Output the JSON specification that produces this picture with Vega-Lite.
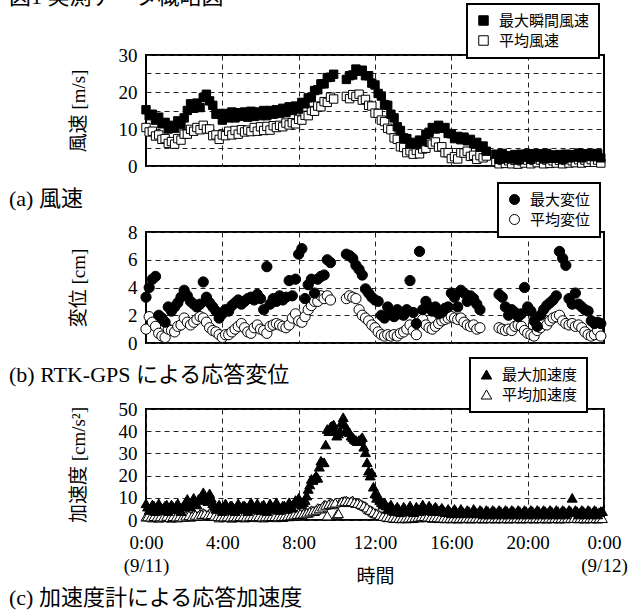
{
"$schema": "https://vega.github.io/schema/vega-lite/v6.json",
"padding": {"left": 8, "top": -14, "right": 10, "bottom": 5},
"title": {"text": "図1 実測データ概略図", "anchor": "start", "frame": "group", "dx": -137, "offset": -7, "fontSize": 22},
"data": {"values": [
{"t":0,"w":15.2,"wm":10.4,"d":3.3,"dm":1.0,"a":7.5,"am":1.5},
{"t":10,"w":13.6,"wm":9.2,"d":4.0,"dm":1.9,"a":4.5,"am":2.2},
{"t":20,"w":14.0,"wm":9.4,"d":4.6,"dm":1.5,"a":7,"am":1.1},
{"t":30,"w":12.4,"wm":8.1,"d":4.8,"dm":1.2,"a":4,"am":2.0},
{"t":40,"w":13.2,"wm":8.4,"d":2.0,"dm":0.7,"a":7.5,"am":1.0},
{"t":50,"w":11.4,"wm":7.2,"d":1.8,"dm":0.5,"a":4.5,"am":2.1},
{"t":60,"w":11.8,"wm":7.4,"d":1.5,"dm":0.4,"a":6.5,"am":1.2},
{"t":70,"w":10.0,"wm":6.1,"d":2.6,"dm":1.0,"a":4,"am":1.9},
{"t":80,"w":11.0,"wm":6.6,"d":2.3,"dm":0.9,"a":7,"am":1.0},
{"t":90,"w":10.2,"wm":5.9,"d":2.6,"dm":0.8,"a":5,"am":2.2},
{"t":100,"w":12.2,"wm":7.4,"d":2.9,"dm":1.2,"a":7.5,"am":1.1},
{"t":110,"w":11.2,"wm":7.0,"d":3.3,"dm":1.3,"a":4,"am":2.0},
{"t":120,"w":13.0,"wm":8.6,"d":3.8,"dm":1.8,"a":7,"am":1.3},
{"t":130,"w":15.0,"wm":8.6,"d":3.4,"dm":1.5,"a":9.5,"am":2.4},
{"t":140,"w":16.8,"wm":9.9,"d":3.0,"dm":1.3,"a":6,"am":1.4},
{"t":150,"w":15.6,"wm":9.4,"d":2.8,"dm":1.5,"a":10,"am":2.6},
{"t":160,"w":17.0,"wm":10.4,"d":2.6,"dm":1.7,"a":7,"am":1.8},
{"t":170,"w":15.8,"wm":9.8,"d":2.8,"dm":1.9,"a":9,"am":2.8},
{"t":180,"w":18.5,"wm":11.0,"d":4.4,"dm":1.8,"a":12.5,"am":3.2},
{"t":190,"w":19.4,"wm":10.0,"d":3.3,"dm":1.5,"a":9.5,"am":2.2},
{"t":200,"w":17.6,"wm":10.0,"d":2.9,"dm":1.1,"a":12,"am":3.2},
{"t":210,"w":16.4,"wm":8.2,"d":2.6,"dm":0.9,"a":7.5,"am":1.8},
{"t":220,"w":14.0,"wm":8.4,"d":2.3,"dm":0.8,"a":5,"am":2.3},
{"t":230,"w":14.2,"wm":7.2,"d":1.8,"dm":0.6,"a":7,"am":1.1},
{"t":240,"w":12.4,"wm":8.4,"d":2.1,"dm":0.4,"a":4,"am":2.0},
{"t":250,"w":14.2,"wm":8.2,"d":2.4,"dm":0.6,"a":7.5,"am":1.2},
{"t":260,"w":13.0,"wm":9.4,"d":2.3,"dm":0.6,"a":4.5,"am":2.1},
{"t":270,"w":14.6,"wm":8.4,"d":2.7,"dm":0.8,"a":6.5,"am":1.0},
{"t":280,"w":13.0,"wm":9.6,"d":2.9,"dm":1.0,"a":4,"am":2.2},
{"t":290,"w":14.4,"wm":8.6,"d":3.1,"dm":1.2,"a":7.5,"am":1.2},
{"t":300,"w":13.4,"wm":9.8,"d":2.8,"dm":1.4,"a":5,"am":2.0},
{"t":310,"w":14.6,"wm":9.2,"d":3.0,"dm":1.1,"a":6.5,"am":1.1},
{"t":320,"w":13.2,"wm":9.7,"d":3.2,"dm":0.8,"a":4,"am":2.2},
{"t":330,"w":14.8,"wm":9.3,"d":3.3,"dm":0.7,"a":8,"am":1.3},
{"t":340,"w":13.4,"wm":10.4,"d":3.1,"dm":1.1,"a":5,"am":2.1},
{"t":350,"w":14.6,"wm":9.4,"d":3.5,"dm":1.3,"a":7.5,"am":1.2},
{"t":360,"w":13.6,"wm":10.6,"d":3.2,"dm":1.0,"a":4.5,"am":2.2},
{"t":370,"w":15.0,"wm":9.6,"d":2.4,"dm":0.9,"a":7,"am":1.1},
{"t":380,"w":13.6,"wm":10.7,"d":5.5,"dm":0.7,"a":4,"am":2.0},
{"t":390,"w":15.0,"wm":9.7,"d":2.8,"dm":1.2,"a":7.5,"am":1.3},
{"t":400,"w":14.0,"wm":10.9,"d":3.2,"dm":1.3,"a":5,"am":2.3},
{"t":410,"w":15.2,"wm":10.4,"d":3.0,"dm":1.4,"a":8,"am":1.2},
{"t":420,"w":14.2,"wm":11.0,"d":3.4,"dm":1.3,"a":4.5,"am":2.1},
{"t":430,"w":15.6,"wm":10.6,"d":3.1,"dm":1.2,"a":6.5,"am":1.3},
{"t":440,"w":14.4,"wm":11.6,"d":3.3,"dm":1.1,"a":5,"am":2.4},
{"t":450,"w":16.0,"wm":11.1,"d":4.5,"dm":1.3,"a":8,"am":1.6},
{"t":460,"w":15.0,"wm":11.7,"d":3.4,"dm":1.8,"a":5.5,"am":2.8},
{"t":470,"w":16.2,"wm":11.4,"d":4.6,"dm":2.1,"a":9,"am":2.0},
{"t":480,"w":15.4,"wm":12.6,"d":6.4,"dm":1.6,"a":10,"am":3.2},
{"t":490,"w":17.2,"wm":12.4,"d":6.8,"dm":1.5,"a":7,"am":2.4},
{"t":500,"w":16.8,"wm":13.7,"d":3.2,"dm":1.9,"a":9,"am":3.4},
{"t":510,"w":18.4,"wm":13.6,"d":4.2,"dm":2.4,"a":14,"am":3.2},
{"t":520,"w":18.6,"wm":15.0,"d":4.6,"dm":2.7,"a":18.5,"am":4.4},
{"t":530,"w":20.4,"wm":14.8,"d":3.6,"dm":3.0,"a":19,"am":4.0},
{"t":540,"w":20.6,"wm":16.2,"d":4.6,"dm":3.0,"a":19,"am":5.4},
{"t":550,"w":22.2,"wm":16.0,"d":4.8,"dm":3.4,"a":26.7,"am":5.2},
{"t":560,"w":22.2,"wm":17.4,"d":4.9,"dm":3.2,"a":26,"am":6.8},
{"t":570,"w":23.9,"wm":17.2,"d":6.0,"dm":3.4,"a":41,"am":2.0},
{"t":580,"w":24.0,"wm":18.6,"d":5.8,"dm":3.1,"a":42,"am":7.6},
{"t":590,"w":24.8,"wm":18.1,"d":null,"dm":null,"a":43,"am":7.0},
{"t":600,"w":null,"wm":null,"d":null,"dm":null,"a":38,"am":2.5},
{"t":610,"w":null,"wm":null,"d":null,"dm":null,"a":40,"am":8.0},
{"t":620,"w":null,"wm":null,"d":null,"dm":null,"a":46.3,"am":8.5},
{"t":630,"w":23.4,"wm":18.8,"d":6.4,"dm":3.2,"a":41,"am":8.8},
{"t":640,"w":24.4,"wm":18.2,"d":6.3,"dm":3.4,"a":39.5,"am":8.0},
{"t":650,"w":24.6,"wm":19.3,"d":6.1,"dm":3.3,"a":37.3,"am":8.8},
{"t":660,"w":26.2,"wm":18.8,"d":5.6,"dm":3.2,"a":36,"am":7.6},
{"t":670,"w":25.6,"wm":19.4,"d":5.3,"dm":2.4,"a":36,"am":7.8},
{"t":680,"w":25.9,"wm":17.8,"d":4.9,"dm":2.0,"a":37.3,"am":6.8},
{"t":690,"w":24.4,"wm":18.0,"d":3.9,"dm":1.8,"a":30.5,"am":6.2},
{"t":700,"w":24.4,"wm":16.4,"d":3.6,"dm":1.6,"a":22.2,"am":4.8},
{"t":710,"w":22.4,"wm":16.2,"d":3.3,"dm":1.3,"a":21.5,"am":4.2},
{"t":720,"w":21.9,"wm":14.3,"d":3.1,"dm":1.1,"a":12,"am":3.0},
{"t":730,"w":19.6,"wm":14.2,"d":3.0,"dm":0.8,"a":11,"am":2.8},
{"t":740,"w":18.9,"wm":12.4,"d":2.0,"dm":0.6,"a":8,"am":1.8},
{"t":750,"w":16.6,"wm":12.0,"d":1.8,"dm":0.5,"a":8,"am":1.9},
{"t":760,"w":16.4,"wm":10.2,"d":2.6,"dm":0.6,"a":5,"am":1.2},
{"t":770,"w":14.0,"wm":9.8,"d":2.2,"dm":0.5,"a":7,"am":1.5},
{"t":780,"w":13.0,"wm":7.6,"d":1.9,"dm":0.6,"a":4,"am":0.8},
{"t":790,"w":10.6,"wm":7.2,"d":2.4,"dm":0.5,"a":6,"am":1.2},
{"t":800,"w":9.6,"wm":5.2,"d":2.1,"dm":0.7,"a":3.5,"am":0.7},
{"t":810,"w":7.6,"wm":5.0,"d":2.0,"dm":0.8,"a":6,"am":1.1},
{"t":820,"w":7.4,"wm":3.6,"d":2.4,"dm":1.0,"a":4,"am":0.7},
{"t":830,"w":5.9,"wm":4.1,"d":4.5,"dm":1.3,"a":6.5,"am":1.2},
{"t":840,"w":6.4,"wm":3.2,"d":2.2,"dm":0.9,"a":3.5,"am":0.8},
{"t":850,"w":5.8,"wm":4.2,"d":1.4,"dm":0.6,"a":6,"am":1.5},
{"t":860,"w":7.0,"wm":3.3,"d":6.6,"dm":1.9,"a":4,"am":1.1},
{"t":870,"w":6.6,"wm":4.6,"d":2.4,"dm":1.7,"a":7,"am":1.9},
{"t":880,"w":8.6,"wm":4.8,"d":3.0,"dm":1.3,"a":4.5,"am":1.2},
{"t":890,"w":9.1,"wm":6.4,"d":2.6,"dm":1.1,"a":6.5,"am":1.6},
{"t":900,"w":10.4,"wm":5.9,"d":2.3,"dm":1.0,"a":4,"am":0.9},
{"t":910,"w":10.0,"wm":6.5,"d":2.6,"dm":1.2,"a":6,"am":1.4},
{"t":920,"w":11.0,"wm":5.1,"d":2.1,"dm":1.4,"a":4,"am":0.8},
{"t":930,"w":10.2,"wm":5.2,"d":2.2,"dm":1.6,"a":5.5,"am":1.2},
{"t":940,"w":10.4,"wm":3.6,"d":2.5,"dm":1.7,"a":3.5,"am":0.7},
{"t":950,"w":8.8,"wm":3.6,"d":2.6,"dm":1.8,"a":5,"am":1.1},
{"t":960,"w":8.7,"wm":2.0,"d":3.6,"dm":1.9,"a":3,"am":0.7},
{"t":970,"w":7.4,"wm":2.5,"d":3.3,"dm":1.8,"a":5,"am":1.2},
{"t":980,"w":8.0,"wm":1.9,"d":2.6,"dm":1.7,"a":3,"am":0.6},
{"t":990,"w":7.1,"wm":3.6,"d":3.8,"dm":1.8,"a":5,"am":1.1},
{"t":1000,"w":7.8,"wm":3.5,"d":3.6,"dm":1.5,"a":3,"am":0.7},
{"t":1010,"w":6.8,"wm":4.0,"d":3.0,"dm":1.3,"a":4.5,"am":1.2},
{"t":1020,"w":7.2,"wm":2.6,"d":3.4,"dm":1.2,"a":3,"am":0.6},
{"t":1030,"w":6.0,"wm":2.9,"d":3.2,"dm":1.3,"a":5,"am":1.1},
{"t":1040,"w":6.4,"wm":1.8,"d":2.8,"dm":1.0,"a":3,"am":0.7},
{"t":1050,"w":5.1,"wm":2.8,"d":2.4,"dm":1.1,"a":4.5,"am":1.2},
{"t":1060,"w":5.4,"wm":2.2,"d":null,"dm":null,"a":2.5,"am":0.6},
{"t":1070,"w":4.0,"wm":2.7,"d":null,"dm":null,"a":4.5,"am":1.1},
{"t":1080,"w":null,"wm":null,"d":null,"dm":null,"a":2.5,"am":0.7},
{"t":1090,"w":null,"wm":null,"d":null,"dm":null,"a":4.5,"am":1.2},
{"t":1100,"w":3.2,"wm":1.2,"d":null,"dm":null,"a":2.5,"am":0.6},
{"t":1110,"w":1.8,"wm":0.6,"d":3.5,"dm":1.1,"a":4.5,"am":1.1},
{"t":1120,"w":3.4,"wm":1.5,"d":3.3,"dm":1.0,"a":2.5,"am":0.7},
{"t":1130,"w":2.0,"wm":0.7,"d":2.6,"dm":0.9,"a":4.5,"am":1.2},
{"t":1140,"w":2.8,"wm":1.4,"d":2.0,"dm":1.0,"a":2.5,"am":0.6},
{"t":1150,"w":1.9,"wm":0.6,"d":2.4,"dm":0.9,"a":4.5,"am":1.1},
{"t":1160,"w":3.1,"wm":1.5,"d":2.2,"dm":1.2,"a":2.5,"am":0.7},
{"t":1170,"w":1.6,"wm":0.5,"d":1.9,"dm":1.3,"a":4.5,"am":1.2},
{"t":1180,"w":3.2,"wm":1.4,"d":2.1,"dm":1.2,"a":2.5,"am":0.6},
{"t":1190,"w":2.3,"wm":0.8,"d":4.0,"dm":0.9,"a":4.5,"am":1.1},
{"t":1200,"w":3.3,"wm":1.6,"d":2.6,"dm":0.7,"a":2.5,"am":0.7},
{"t":1210,"w":1.8,"wm":0.6,"d":2.3,"dm":0.6,"a":4.5,"am":1.2},
{"t":1220,"w":3.3,"wm":1.5,"d":1.6,"dm":0.5,"a":2.5,"am":0.6},
{"t":1230,"w":2.4,"wm":0.9,"d":1.2,"dm":0.9,"a":4.5,"am":1.1},
{"t":1240,"w":3.3,"wm":1.6,"d":2.0,"dm":1.1,"a":2.5,"am":0.7},
{"t":1250,"w":1.9,"wm":0.6,"d":2.4,"dm":1.4,"a":4.5,"am":1.2},
{"t":1260,"w":3.4,"wm":1.6,"d":2.7,"dm":1.3,"a":2.5,"am":0.6},
{"t":1270,"w":2.1,"wm":0.7,"d":2.9,"dm":1.6,"a":4.5,"am":1.1},
{"t":1280,"w":3.0,"wm":1.4,"d":3.1,"dm":1.8,"a":2.5,"am":0.7},
{"t":1290,"w":2.1,"wm":0.8,"d":3.4,"dm":1.9,"a":4.5,"am":1.2},
{"t":1300,"w":3.1,"wm":1.5,"d":6.6,"dm":2.0,"a":2.5,"am":0.6},
{"t":1310,"w":1.7,"wm":0.6,"d":6.1,"dm":1.6,"a":4.5,"am":1.1},
{"t":1320,"w":3.2,"wm":1.5,"d":5.6,"dm":1.4,"a":2.5,"am":0.7},
{"t":1330,"w":2.2,"wm":0.8,"d":3.2,"dm":1.3,"a":4.5,"am":1.2},
{"t":1340,"w":3.1,"wm":1.4,"d":2.8,"dm":1.4,"a":10,"am":1.3},
{"t":1350,"w":2.4,"wm":0.9,"d":3.6,"dm":1.2,"a":4.5,"am":1.1},
{"t":1360,"w":3.5,"wm":1.7,"d":2.8,"dm":1.3,"a":2.5,"am":0.7},
{"t":1370,"w":2.2,"wm":0.8,"d":2.6,"dm":1.1,"a":4.5,"am":1.2},
{"t":1380,"w":3.3,"wm":1.6,"d":2.4,"dm":0.8,"a":2.5,"am":0.6},
{"t":1390,"w":2.6,"wm":1.0,"d":2.3,"dm":0.6,"a":4.5,"am":1.1},
{"t":1400,"w":3.4,"wm":1.7,"d":1.6,"dm":0.5,"a":2.5,"am":0.7},
{"t":1410,"w":2.5,"wm":1.0,"d":1.4,"dm":0.6,"a":4.5,"am":1.2},
{"t":1420,"w":3.3,"wm":1.6,"d":1.5,"dm":0.9,"a":2.5,"am":0.6},
{"t":1430,"w":2.2,"wm":0.8,"d":1.4,"dm":0.5,"a":4,"am":1.0},
{"t":5,"a":6,"am":1.6},{"t":15,"a":5.5,"am":1.4},{"t":25,"a":6.5,"am":1.7},{"t":35,"a":5,"am":1.5},
{"t":45,"a":6,"am":1.6},{"t":55,"a":5.5,"am":1.4},{"t":65,"a":7,"am":1.8},{"t":75,"a":5.5,"am":1.3},
{"t":85,"a":6,"am":1.7},{"t":95,"a":6.5,"am":1.5},{"t":105,"a":5,"am":1.6},{"t":115,"a":6,"am":1.4},
{"t":125,"a":8,"am":1.9},{"t":135,"a":7,"am":2.1},{"t":145,"a":8.5,"am":1.8},{"t":155,"a":7.5,"am":2.3},
{"t":165,"a":9.5,"am":2.0},{"t":175,"a":10,"am":2.6},{"t":185,"a":11,"am":2.8},{"t":195,"a":8.5,"am":2.4},
{"t":205,"a":10,"am":2.6},{"t":215,"a":6.5,"am":1.9},{"t":225,"a":6,"am":1.7},{"t":235,"a":5.5,"am":1.6},
{"t":245,"a":6,"am":1.5},{"t":255,"a":5.5,"am":1.6},{"t":265,"a":6.5,"am":1.4},{"t":275,"a":5.5,"am":1.6},
{"t":285,"a":6,"am":1.5},{"t":295,"a":5.5,"am":1.7},{"t":305,"a":6.5,"am":1.6},{"t":315,"a":5.5,"am":1.5},
{"t":325,"a":6,"am":1.6},{"t":335,"a":6.5,"am":1.7},{"t":345,"a":6,"am":1.6},{"t":355,"a":5.5,"am":1.7},
{"t":365,"a":6.5,"am":1.5},{"t":375,"a":5.5,"am":1.6},{"t":385,"a":6,"am":1.6},{"t":395,"a":6,"am":1.7},
{"t":405,"a":6.5,"am":1.7},{"t":415,"a":6,"am":1.6},{"t":425,"a":5.5,"am":1.7},{"t":435,"a":6.5,"am":1.8},
{"t":445,"a":6,"am":1.9},{"t":455,"a":6.5,"am":2.1},{"t":465,"a":7.5,"am":2.4},{"t":475,"a":8,"am":2.6},
{"t":485,"a":8.5,"am":2.8},{"t":495,"a":8,"am":2.9},{"t":505,"a":11,"am":3.3},{"t":515,"a":16,"am":3.8},
{"t":525,"a":18,"am":4.2},{"t":535,"a":20,"am":4.6},{"t":545,"a":24,"am":5.2},{"t":555,"a":26,"am":6.0},
{"t":565,"a":34,"am":6.8},{"t":575,"a":40,"am":7.2},{"t":585,"a":42.5,"am":7.4},{"t":595,"a":40,"am":7.8},
{"t":605,"a":39,"am":3.0},{"t":615,"a":44,"am":8.3},{"t":625,"a":43,"am":8.6},{"t":635,"a":40,"am":8.4},
{"t":645,"a":38,"am":8.5},{"t":655,"a":36.5,"am":8.0},{"t":665,"a":35.5,"am":7.7},{"t":675,"a":36.5,"am":7.2},
{"t":685,"a":33,"am":6.5},{"t":695,"a":26,"am":5.6},{"t":705,"a":20,"am":4.5},{"t":715,"a":15,"am":3.6},
{"t":725,"a":10,"am":2.9},{"t":735,"a":9,"am":2.2},{"t":745,"a":7,"am":1.8},{"t":755,"a":6.5,"am":1.5},
{"t":765,"a":6,"am":1.3},{"t":775,"a":5.5,"am":1.1},{"t":785,"a":5,"am":1.0},{"t":795,"a":5,"am":0.9},
{"t":805,"a":4.5,"am":0.9},{"t":815,"a":5,"am":0.9},{"t":825,"a":5,"am":1.0},{"t":835,"a":5,"am":1.0},
{"t":845,"a":4.5,"am":1.2},{"t":855,"a":5,"am":1.4},{"t":865,"a":5.5,"am":1.6},{"t":875,"a":5.5,"am":1.7},
{"t":885,"a":5,"am":1.5},{"t":895,"a":5.5,"am":1.3},{"t":905,"a":5,"am":1.2},{"t":915,"a":5,"am":1.2},
{"t":925,"a":4.5,"am":1.1},{"t":935,"a":4.5,"am":1.0},{"t":945,"a":4,"am":0.9},{"t":955,"a":4,"am":0.9},
{"t":965,"a":4,"am":0.9},{"t":975,"a":4,"am":0.9},{"t":985,"a":3.5,"am":0.9},{"t":995,"a":4,"am":0.9},
{"t":1005,"a":3.5,"am":0.9},{"t":1015,"a":4,"am":0.9},{"t":1025,"a":3.5,"am":0.9},{"t":1035,"a":4,"am":0.9},
{"t":1045,"a":3.5,"am":0.9},{"t":1055,"a":4,"am":0.8},{"t":1065,"a":3.5,"am":0.9},{"t":1075,"a":4,"am":0.8},
{"t":1085,"a":3.5,"am":0.9},{"t":1095,"a":4,"am":0.8},{"t":1105,"a":3.5,"am":0.9},{"t":1115,"a":4,"am":0.8},
{"t":1125,"a":3.5,"am":0.9},{"t":1135,"a":4,"am":0.8},{"t":1145,"a":3.5,"am":0.9},{"t":1155,"a":4,"am":0.8},
{"t":1165,"a":3.5,"am":0.9},{"t":1175,"a":4,"am":0.8},{"t":1185,"a":3.5,"am":0.9},{"t":1195,"a":4,"am":0.8},
{"t":1205,"a":3.5,"am":0.9},{"t":1215,"a":4,"am":0.8},{"t":1225,"a":3.5,"am":0.9},{"t":1235,"a":4,"am":0.8},
{"t":1245,"a":3.5,"am":0.9},{"t":1255,"a":4,"am":0.8},{"t":1265,"a":3.5,"am":0.9},{"t":1275,"a":4,"am":0.8},
{"t":1285,"a":3.5,"am":0.9},{"t":1295,"a":4,"am":0.8},{"t":1305,"a":3.5,"am":0.9},{"t":1315,"a":4,"am":0.8},
{"t":1325,"a":3.5,"am":0.9},{"t":1335,"a":4,"am":0.8},{"t":1345,"a":3.5,"am":0.9},{"t":1355,"a":4,"am":0.8},
{"t":1365,"a":3.5,"am":0.9},{"t":1375,"a":4,"am":0.8},{"t":1385,"a":3.5,"am":0.9},{"t":1395,"a":4,"am":0.8},
{"t":1405,"a":3.5,"am":0.9},{"t":1415,"a":4,"am":0.8},{"t":1425,"a":3.5,"am":0.9},{"t":1435,"a":4,"am":0.8}
]},
"bounds": "flush",
"spacing": 66,
"resolve": {"scale": {"fill": "independent"}, "legend": {"fill": "independent"}},
"vconcat": [
{
 "width": 458, "height": 111,
 "title": {"text": "(a) 風速", "orient": "bottom", "anchor": "start", "frame": "group", "dx": -137, "offset": 13},
 "encoding": {"x": {"field": "t", "type": "quantitative", "scale": {"domain": [0, 1440], "nice": false, "zero": false}, "axis": {"values": [240, 480, 720, 960, 1200], "labels": false, "title": null}}},
 "layer": [
  {"mark": {"type": "point", "shape": "square", "filled": true, "size": 70, "stroke": "black", "strokeWidth": 1, "opacity": 1},
   "encoding": {
    "y": {"field": "wm", "type": "quantitative", "scale": {"domain": [0, 30], "nice": false}, "axis": {"title": "風速 [m/s]", "values": [0, 5, 10, 15, 20, 25, 30], "labelExpr": "datum.value % 10 == 0 ? datum.label : ''", "titlePadding": 30}},
    "fill": {"datum": "平均風速", "scale": {"domain": ["最大瞬間風速", "平均風速"], "range": ["black", "white"]}, "legend": {"orient": "none", "legendX": 321, "legendY": -51, "symbolType": "square", "symbolSize": 90}}}},
  {"mark": {"type": "point", "shape": "square", "filled": true, "size": 70, "stroke": "black", "strokeWidth": 1, "opacity": 1},
   "encoding": {
    "y": {"field": "w", "type": "quantitative", "axis": {"title": "風速 [m/s]", "values": [0, 5, 10, 15, 20, 25, 30], "labelExpr": "datum.value % 10 == 0 ? datum.label : ''", "titlePadding": 30}},
    "fill": {"datum": "最大瞬間風速"}}}
 ]
},
{
 "width": 458, "height": 111,
 "title": {"text": "(b) RTK-GPS による応答変位", "orient": "bottom", "anchor": "start", "frame": "group", "dx": -137, "offset": 12},
 "encoding": {"x": {"field": "t", "type": "quantitative", "scale": {"domain": [0, 1440], "nice": false, "zero": false}, "axis": {"values": [240, 480, 720, 960, 1200], "labels": false, "title": null}}},
 "layer": [
  {"mark": {"type": "point", "shape": "circle", "filled": true, "size": 105, "stroke": "black", "strokeWidth": 1, "opacity": 1},
   "encoding": {
    "y": {"field": "dm", "type": "quantitative", "scale": {"domain": [0, 8], "nice": false}, "axis": {"title": "変位 [cm]", "values": [0, 2, 4, 6, 8], "titlePadding": 39}},
    "fill": {"datum": "平均変位", "scale": {"domain": ["最大変位", "平均変位"], "range": ["black", "white"]}, "legend": {"orient": "none", "legendX": 352, "legendY": -49, "symbolType": "circle", "symbolSize": 100}}}},
  {"mark": {"type": "point", "shape": "circle", "filled": true, "size": 105, "stroke": "black", "strokeWidth": 1, "opacity": 1},
   "encoding": {
    "y": {"field": "d", "type": "quantitative", "axis": {"title": "変位 [cm]", "values": [0, 2, 4, 6, 8], "titlePadding": 39}},
    "fill": {"datum": "最大変位"}}}
 ]
},
{
 "width": 458, "height": 111,
 "title": {"text": "(c) 加速度計による応答加速度", "orient": "bottom", "anchor": "start", "frame": "group", "dx": -137, "offset": 2},
 "encoding": {"x": {"field": "t", "type": "quantitative", "scale": {"domain": [0, 1440], "nice": false, "zero": false}, "axis": {"values": [0, 240, 480, 720, 960, 1200, 1440], "labelExpr": "datum.value == 0 ? ['0:00', '(9/11)'] : datum.value == 1440 ? ['0:00', '(9/12)'] : (datum.value / 60) + ':00'", "labelFontSize": 19, "labelLineHeight": 23, "labelPadding": 13, "labelFlush": false, "labelOverlap": false, "labelBound": false, "title": "時間", "titleFontSize": 19, "titleY": 56, "titleBaseline": "middle"}}},
 "layer": [
  {"mark": {"type": "point", "shape": "triangle-up", "filled": true, "size": 100, "stroke": "black", "strokeWidth": 1, "opacity": 1},
   "encoding": {
    "y": {"field": "am", "type": "quantitative", "scale": {"domain": [0, 50], "nice": false}, "axis": {"title": "加速度 [cm/s²]", "values": [0, 10, 20, 30, 40, 50], "titlePadding": 30}},
    "fill": {"datum": "平均加速度", "scale": {"domain": ["最大加速度", "平均加速度"], "range": ["black", "white"]}, "legend": {"orient": "none", "legendX": 324, "legendY": -51, "symbolType": "triangle-up", "symbolSize": 110}}}},
  {"mark": {"type": "point", "shape": "triangle-up", "filled": true, "size": 100, "stroke": "black", "strokeWidth": 1, "opacity": 1},
   "encoding": {
    "y": {"field": "a", "type": "quantitative", "axis": {"title": "加速度 [cm/s²]", "values": [0, 10, 20, 30, 40, 50], "titlePadding": 30}},
    "fill": {"datum": "最大加速度"}}}
 ]
}
],
"config": {
 "view": {"stroke": "black", "strokeWidth": 2},
 "axis": {"grid": true, "gridColor": "#222", "gridDash": [5, 4], "gridWidth": 1, "domain": false, "ticks": false, "labelFont": "'Liberation Serif'", "labelFontSize": 19, "labelColor": "black", "labelPadding": 9, "titleFont": "'Liberation Serif', 'Noto Sans CJK JP'", "titleFontSize": 19, "titleFontWeight": "normal", "titleColor": "black"},
 "legend": {"title": null, "direction": "vertical", "labelFont": "'Noto Sans CJK JP'", "labelFontSize": 15, "labelColor": "black", "strokeColor": "black", "strokeWidth": 2, "fillColor": "white", "padding": 9, "rowPadding": 4, "labelOffset": 8, "symbolStrokeColor": "black", "symbolStrokeWidth": 1},
 "title": {"font": "'Liberation Serif', 'Noto Sans CJK JP'", "fontSize": 22, "fontWeight": "normal", "color": "black"}
}
}
